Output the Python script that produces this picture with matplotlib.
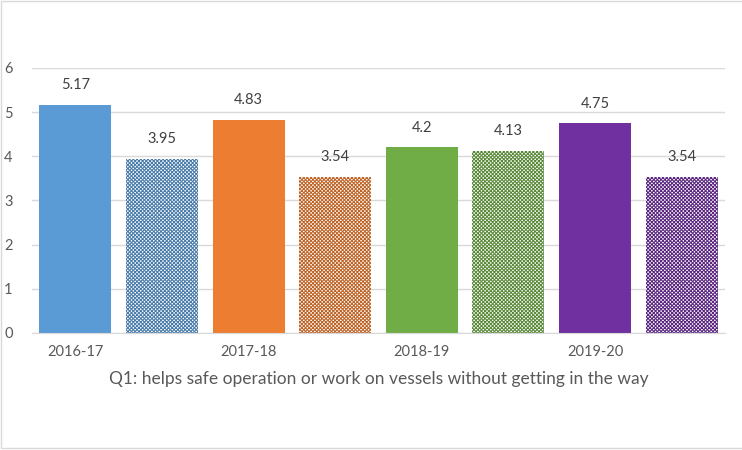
import numpy as np
import matplotlib
matplotlib.use("Agg")
import matplotlib.pyplot as plt
from matplotlib.colors import to_rgb
from matplotlib.patches import Rectangle

plt.rcParams['font.family'] = ['Lato', 'DejaVu Sans']
plt.rcParams['hatch.linewidth'] = 0.75

# data
years = ["2016-17", "2017-18", "2018-19", "2019-20"]
values = [5.17, 3.95, 4.83, 3.54, 4.2, 4.13, 4.75, 3.54]
colors = ["#5B9BD5", "#5B9BD5", "#ED7D31", "#ED7D31",
          "#70AD47", "#70AD47", "#7030A0", "#7030A0"]
patterned = [False, True, False, True, False, True, False, True]
yticks = [0, 1, 2, 3, 4, 5, 6]

text_col = "#595959"
grid_col = "#d9d9d9"

fig = plt.figure(figsize=(7.42, 4.5), dpi=100)
ax = fig.add_axes([0.0431, 0.26, 0.934, 0.589])

x = np.arange(len(values))
width = 0.83

for xi, v, c, p in zip(x, values, colors, patterned):
    if not p:
        ax.bar(xi, v, width, color=c, zorder=2)
    else:
        # fine stipple like Excel's 50% pattern fill, a bit darker tone
        dark = tuple(np.array(to_rgb(c)) * 0.8)
        ax.bar(xi, v, width, facecolor="white", edgecolor=dark, linewidth=0,
               hatch="xxxxxxxxx", zorder=2)
    ax.text(xi, v + 0.28, f"{v:g}", ha='center', va='bottom',
            fontsize=10.5, color="#404040")

ax.set_xlim(-0.5, len(values) - 0.5)
ax.set_ylim(0, 6)

ax.set_xticks(x[::2])
ax.set_xticklabels(years)
ax.set_yticks(yticks)
ax.tick_params(axis='both', length=0, labelsize=10.5, labelcolor=text_col)
ax.tick_params(axis='x', pad=9)
ax.tick_params(axis='y', pad=14)
ax.yaxis.grid(True, color=grid_col, linewidth=1)
ax.set_axisbelow(True)
for s in ["top", "right", "left"]:
    ax.spines[s].set_visible(False)
ax.spines["bottom"].set_color(grid_col)

ax.set_xlabel("Q1: helps safe operation or work on vessels without getting in the way",
              fontsize=12.5, color=text_col, labelpad=8)

# chart frame
fig.patches.append(Rectangle((0.002, 0.004), 1.2, 0.993, transform=fig.transFigure,
                             fill=False, edgecolor=grid_col, linewidth=1))

fig.savefig("out.png", dpi=100)
